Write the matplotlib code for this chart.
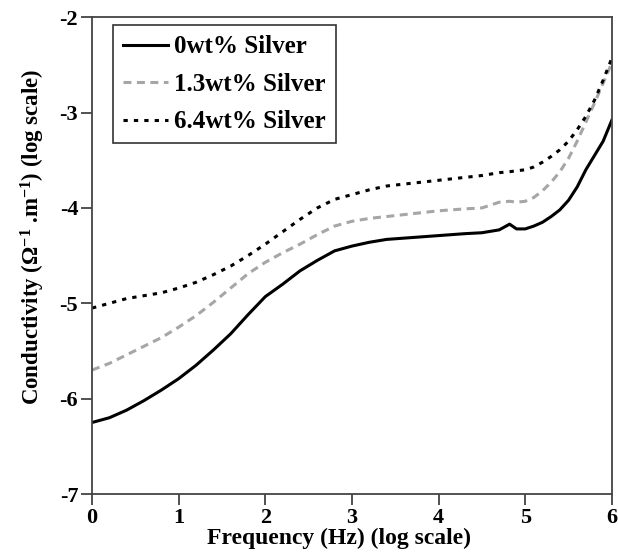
import matplotlib
matplotlib.use("Agg")
import matplotlib.pyplot as plt

plt.rcParams['font.family'] = ['Liberation Serif', 'DejaVu Serif']
plt.rcParams['font.weight'] = 'bold'
plt.rcParams['axes.unicode_minus'] = False
plt.rcParams['mathtext.fontset'] = 'custom'
plt.rcParams['mathtext.rm'] = 'Liberation Serif:bold'
plt.rcParams['mathtext.bf'] = 'Liberation Serif:bold'
plt.rcParams['mathtext.it'] = 'Liberation Serif:bold'

# log10 frequency (Hz)
freq = [0, 0.2, 0.4, 0.6, 0.8, 1.0, 1.2, 1.4, 1.6, 1.8, 2.0, 2.2, 2.4, 2.6, 2.8,
        3.0, 3.2, 3.4, 3.7, 4.0, 4.3, 4.5, 4.7, 4.82, 4.9, 5.0, 5.1, 5.2, 5.3,
        5.4, 5.5, 5.6, 5.7, 5.8, 5.9, 6.0]
# log10 conductivity
silver_0 = [-6.25, -6.20, -6.12, -6.02, -5.91, -5.79, -5.65, -5.49, -5.32, -5.12,
            -4.93, -4.80, -4.66, -4.55, -4.45, -4.40, -4.36, -4.33, -4.31, -4.29,
            -4.27, -4.26, -4.23, -4.17, -4.22, -4.22, -4.19, -4.15, -4.09, -4.02,
            -3.92, -3.78, -3.60, -3.45, -3.30, -3.08]
silver_13 = [-5.70, -5.63, -5.54, -5.45, -5.36, -5.25, -5.13, -4.99, -4.84, -4.69,
             -4.57, -4.47, -4.38, -4.28, -4.19, -4.14, -4.11, -4.09, -4.06, -4.03,
             -4.01, -4.00, -3.94, -3.93, -3.94, -3.93, -3.89, -3.82, -3.73, -3.62,
             -3.48, -3.30, -3.10, -2.90, -2.69, -2.48]
silver_64 = [-5.05, -5.00, -4.95, -4.92, -4.89, -4.84, -4.78, -4.70, -4.61, -4.50,
             -4.38, -4.25, -4.12, -4.00, -3.91, -3.86, -3.81, -3.77, -3.74, -3.71,
             -3.68, -3.66, -3.63, -3.62, -3.61, -3.60, -3.57, -3.52, -3.46, -3.39,
             -3.30, -3.18, -3.04, -2.87, -2.66, -2.43]

fig = plt.figure(figsize=(6.18, 5.56), dpi=100)
ax = fig.add_axes([0.149, 0.1115, 0.841, 0.8575])

ax.plot(freq, silver_0, color='black', lw=2.2, label='0wt% Silver')
ax.plot(freq, silver_13, color='#a6a6a6', lw=2.2, dashes=(2.6, 1.8), label='1.3wt% Silver')
ax.plot(freq, silver_64, color='black', lw=2.2, dashes=(1.4, 2.0), label='6.4wt% Silver')

ax.set_xlim(0, 6)
ax.set_ylim(-7, -2)
ax.set_xticks(range(0, 7))
ax.set_yticks(range(-7, -1))
ax.tick_params(direction='out', length=8, width=1.2, pad=2, labelsize=16, color='#333333')
for s in ax.spines.values():
    s.set_color('#444444')
    s.set_linewidth(1.3)

ax.set_xlabel('Frequency (Hz) (log scale)', fontsize=17, fontweight='bold')
ax.set_ylabel(r'Conductivity ($\Omega^{-1}$ .m$^{-1}$) (log scale)', fontsize=16.5,
              fontweight='bold')
ax.xaxis.set_label_coords(0.475, -0.071)
ax.yaxis.set_label_coords(-0.087, 0.539)

leg = ax.legend(loc='upper left', bbox_to_anchor=(0.04, 0.983), borderaxespad=0,
                fontsize=18, frameon=True, fancybox=False, edgecolor='black',
                handlelength=1.8, handletextpad=0.25, labelspacing=0.58, borderpad=0.4)
leg.get_frame().set_linewidth(1.2)
for t in leg.get_texts():
    t.set_fontweight('bold')

fig.savefig('out.png', dpi=100)
